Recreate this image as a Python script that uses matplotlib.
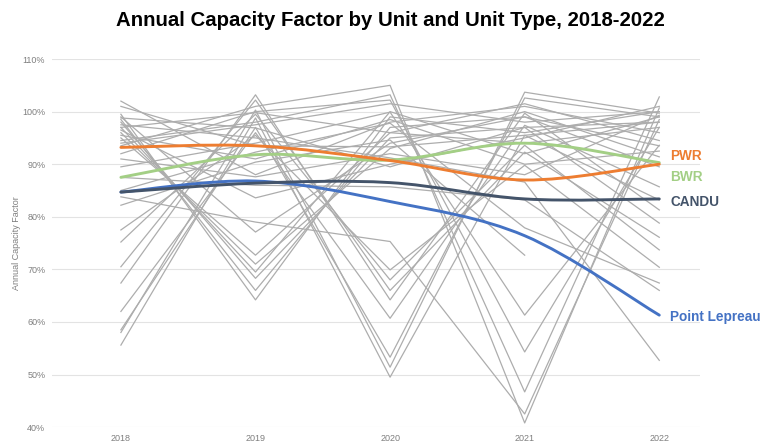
import numpy as np
import matplotlib
matplotlib.use("Agg")
import matplotlib.pyplot as plt
from matplotlib.path import Path
from matplotlib.patches import PathPatch

plt.rcParams['font.family'] = ['Liberation Sans', 'DejaVu Sans']

# data (capacity factor, %)
years = [2018, 2019, 2020, 2021, 2022]

pwr = [93.2, 93.5, 90.7, 87.0, 90.0]
bwr = [87.5, 91.8, 90.8, 94.0, 90.3]
candu = [84.7, 86.4, 86.5, 83.4, 83.4]
lepreau = [84.7, 86.8, 82.9, 76.4, 61.3]

units = [
    [102.0, 88.0, 98.0, 101.0, 96.0],
    [99.5, 64.2, 99.0, 96.0, 100.0],
    [98.5, 66.0, 97.0, 99.0, 93.5],
    [98.0, 68.3, 95.0, 97.0, 98.0],
    [97.0, 69.5, 100.0, 92.0, 99.0],
    [96.0, 71.0, 93.0, 100.0, 91.4],
    [95.0, 72.7, 96.0, 94.0, 97.0],
    [99.0, 77.1, 94.0, 99.0, 89.5],
    [96.5, 83.6, 90.0, 95.0, 101.0],
    [55.6, 98.8, 49.5, 95.5, 98.0],
    [58.0, 100.3, 51.4, 103.7, 99.7],
    [58.5, 97.0, 53.3, 102.6, 99.0],
    [62.0, 96.0, 60.7, 97.4, 85.7],
    [67.4, 103.2, 64.2, 99.7, 81.3],
    [70.5, 102.2, 66.0, 92.3, 76.1],
    [75.2, 99.5, 68.0, 93.6, 73.7],
    [77.5, 95.5, 69.9, 89.8, 70.4],
    [83.8, 79.0, 75.3, 42.5, 98.5],
    [93.5, 101.0, 105.0, 40.8, 100.7],
    [94.5, 98.0, 103.2, 46.7, 102.8],
    [92.0, 100.0, 102.2, 54.3, 97.0],
    [89.5, 94.0, 99.9, 61.3, 93.6],
    [85.0, 92.3, 97.8, 77.9, 67.4],
    [82.2, 90.4, 94.6, 72.7, np.nan],
    [87.5, 86.0, 85.7, 83.2, 66.0],
    [97.5, 95.0, 91.2, 86.6, 52.7],
    [98.8, 96.9, 89.5, 97.0, 78.8],
    [101.0, 93.5, 93.3, 95.5, 83.2],
    [94.0, 97.5, 101.5, 98.0, 100.0],
    [97.0, 99.8, 96.0, 101.5, 94.5],
    [91.0, 87.6, 92.0, 88.0, 99.3],
    [95.5, 91.0, 98.5, 90.0, 92.5],
]

highlight = [
    ("Point Lepreau", lepreau, "#4472C4", -1),
    ("CANDU", candu, "#44546A", -2),
    ("BWR", bwr, "#A3CF85", -10),
    ("PWR", pwr, "#ED7D31", 6),
]


def smooth_path(xs, ys):
    # excel-style smoothed line as cubic bezier through the points
    pts = np.column_stack([xs, ys]).astype(float)
    verts = [pts[0]]
    codes = [Path.MOVETO]
    n = len(pts)
    for i in range(n - 1):
        p0 = pts[max(i - 1, 0)]
        p1 = pts[i]
        p2 = pts[i + 1]
        p3 = pts[min(i + 2, n - 1)]
        c1 = p1 + (p2 - p0) / 6.0
        c2 = p2 - (p3 - p1) / 6.0
        verts += [c1, c2, p2]
        codes += [Path.CURVE4] * 3
    return Path(verts, codes)


fig = plt.figure(figsize=(7.8, 4.44), dpi=100)
ax = fig.add_axes([0.067, 0.038, 0.83, 0.829])

for u in units:
    ax.plot(years, u, color="#ADADAD", lw=0.9, zorder=2)

for name, vals, col, dy in highlight:
    ax.add_patch(PathPatch(smooth_path(years, vals), fill=False,
                           edgecolor=col, lw=2.1, capstyle='round', zorder=3))
    ax.annotate(name, (years[-1], vals[-1]), xytext=(8, dy),
                textcoords='offset points', color=col, fontsize=9.8,
                fontweight='bold', va='center', ha='left',
                annotation_clip=False)

ax.set_xlim(2017.49, 2022.3)
ax.set_ylim(40, 110)
ax.set_yticks(range(40, 111, 10))
ax.set_yticklabels([f"{v}%" for v in range(40, 111, 10)])
ax.set_xticks(years)
ax.tick_params(length=0, labelsize=6.5, labelcolor="#7F7F7F", pad=5)
ax.grid(axis='y', color="#E3E3E3", lw=0.8)
ax.set_axisbelow(True)
for s in ax.spines.values():
    s.set_visible(False)
ax.set_ylabel("Annual Capacity Factor", fontsize=6.5, color="#7F7F7F", labelpad=1)

fig.suptitle("Annual Capacity Factor by Unit and Unit Type, 2018-2022",
             x=0.5, y=0.975, fontsize=14.7, fontweight='bold')

fig.savefig("out.png", dpi=100)
